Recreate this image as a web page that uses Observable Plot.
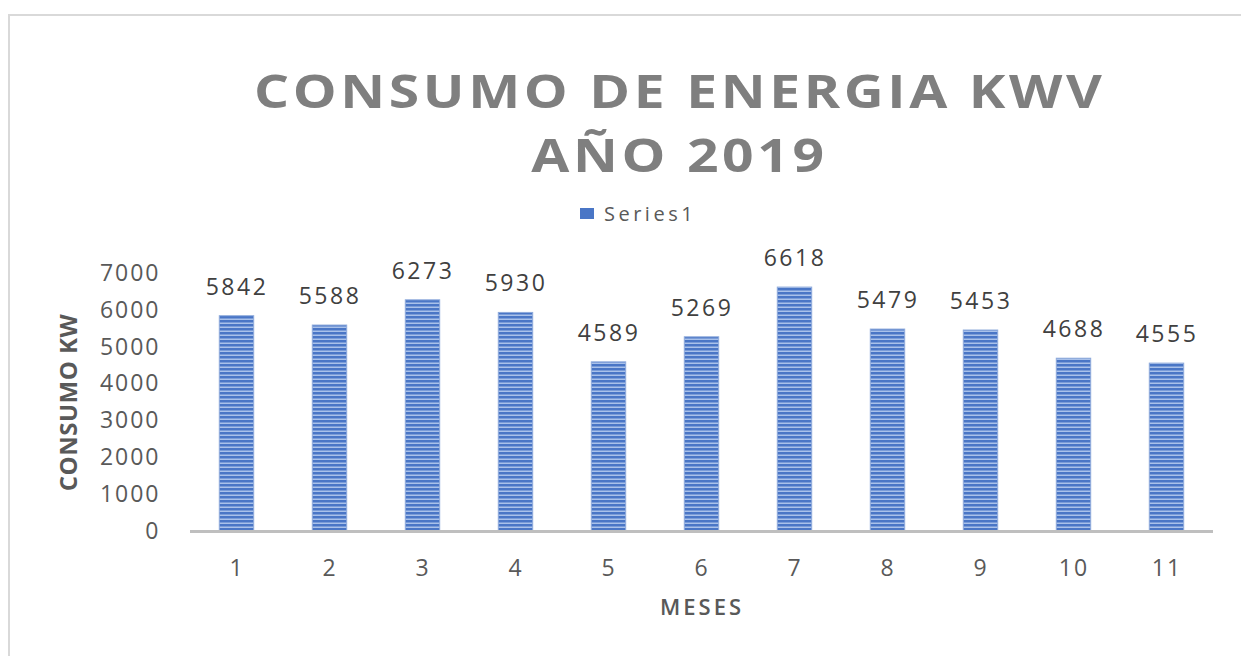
<!DOCTYPE html>
<html>
<head>
<meta charset="utf-8">
<script src="https://cdn.jsdelivr.net/npm/d3@7"></script>
<script src="https://cdn.jsdelivr.net/npm/@observablehq/plot@0.6"></script>
<style>
  html, body { margin: 0; padding: 0; background: #fff; }
  #wrap { position: relative; width: 1241px; height: 656px; overflow: hidden; font-family: "Open Sans", Calibri, sans-serif; }
  #frame { position: absolute; left: 8px; top: 14px; width: 1260px; height: 700px; border-left: 2px solid #d9d9d9; border-top: 2px solid #d9d9d9; }
  #title { position: absolute; left: 0; width: 1241px; top: 58px; text-align: center; color: #7f7f7f; font-weight: 700; font-size: 46px; letter-spacing: 3px; line-height: 64px; padding-left: 118px; box-sizing: border-box; }
  #title span { display: inline-block; transform: scaleX(1.2); transform-origin: center; white-space: nowrap; }
  #legend { position: absolute; top: 200px; left: 580px; font-size: 20px; color: #595959; display: flex; align-items: center; letter-spacing: 3.5px; }
  #legend .sw { width: 14px; height: 11px; background: #4a76c6; margin-right: 10px; }
  #chart { position: absolute; left: 0; top: 0; }
  #chart svg text { fill: #595959; }
  #chart g[aria-label="y-axis tick label"] text, #chart g[aria-label="x-axis tick label"] text { letter-spacing: 2px; }
  #chart g[aria-label="y-axis label"] text { font-weight: 700; font-size: 24px; letter-spacing: 0.5px; }
  #chart g[aria-label="x-axis label"] text { font-size: 22px; font-weight: 600; letter-spacing: 3px; }
  #chart g[aria-label="text"] text { letter-spacing: 2.5px; fill: #404040; }
</style>
</head>
<body>
<div id="wrap">
  <div id="frame"></div>
  <div id="title"><span>CONSUMO DE ENERGIA KWV</span><br><span>AÑO 2019</span></div>
  <div id="legend"><div class="sw"></div><span>Series1</span></div>
  <div id="chart"></div>
</div>
<script>
const meses = [1, 2, 3, 4, 5, 6, 7, 8, 9, 10, 11];
const consumo = [5842, 5588, 6273, 5930, 4589, 5269, 6618, 5479, 5453, 4688, 4555];
const yTicks = [0, 1000, 2000, 3000, 4000, 5000, 6000, 7000];

const data = meses.map((m, i) => ({mes: m, kw: consumo[i]}));

const plot = Plot.plot({
  width: 1241,
  height: 656,
  marginLeft: 190,
  marginRight: 28,
  marginTop: 273,
  marginBottom: 125,
  style: { fontFamily: "'Open Sans', Calibri, sans-serif", fontSize: "23px", background: "transparent", color: "#595959" },
  x: { domain: meses, paddingInner: 0.63, paddingOuter: 0.315, round: false, label: "MESES", labelAnchor: "center", labelOffset: 83, tickSize: 0, tickPadding: 28 },
  y: { domain: [0, 7000], ticks: yTicks, tickFormat: d => String(d), label: "CONSUMO KW", labelAnchor: "center", labelOffset: 131, labelArrow: "none", tickSize: 0, tickPadding: 30 },
  marks: [
    Plot.barY(data, { x: "mes", y: "kw", fill: "url(#stripes)", stroke: "#8eaadb", strokeWidth: 1 }),
    Plot.ruleY([0], { stroke: "#bfbfbf", strokeWidth: 3 }),
    Plot.text(data, { x: "mes", y: "kw", text: d => String(d.kw), dy: -29, fontSize: 23, fill: "#404040" })
  ]
});

// stripe pattern for bars
const ns = "http://www.w3.org/2000/svg";
const defs = document.createElementNS(ns, "defs");
defs.innerHTML = `<pattern id="stripes" patternUnits="userSpaceOnUse" width="8" height="4">
  <rect width="8" height="4" fill="#4a76c6"/>
  <rect y="2.5" width="8" height="1.5" fill="#a9c1ea"/>
</pattern>`;
plot.insertBefore(defs, plot.firstChild);
plot.querySelectorAll('g[aria-label="bar"] rect').forEach(r => r.setAttribute("fill", "url(#stripes)"));

document.getElementById("chart").appendChild(plot);
</script>
</body>
</html>
